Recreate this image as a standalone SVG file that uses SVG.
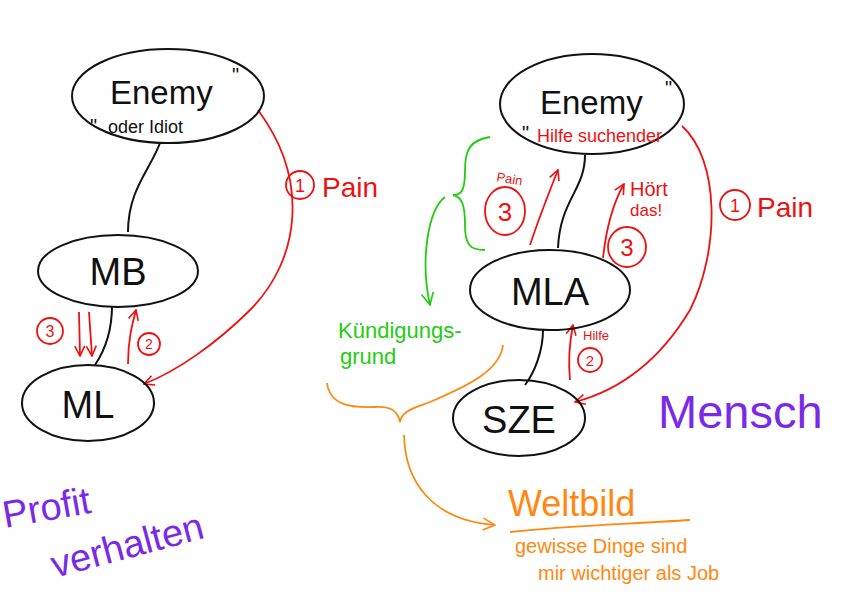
<svg xmlns="http://www.w3.org/2000/svg" width="842" height="595" viewBox="0 0 842 595">
<defs>
<style>
.node{fill:none;stroke:#111;stroke-width:2}
.blk{fill:none;stroke:#111;stroke-width:2}
.red{fill:none;stroke:#ee1111;stroke-width:1.8}
.grn{fill:none;stroke:#22cc11;stroke-width:1.8}
.org{fill:none;stroke:#ff8811;stroke-width:1.8}
.t{font-family:"Liberation Sans",Arial,sans-serif;fill:#111}
.tr{font-family:"Liberation Sans",Arial,sans-serif;fill:#ee1111}
.tg{font-family:"Liberation Sans",Arial,sans-serif;fill:#22cc11}
.to{font-family:"Liberation Sans",Arial,sans-serif;fill:#ff8811}
.tp{font-family:"Liberation Sans",Arial,sans-serif;fill:#7a2ae6}
</style>
<marker id="ar" viewBox="0 0 12 12" refX="11" refY="6" markerWidth="12" markerHeight="12" markerUnits="userSpaceOnUse" orient="auto"><path d="M1,1 L11,6 L1,11" fill="none" stroke="#ee1111" stroke-width="1.6"/></marker>
<marker id="ag" viewBox="0 0 14 14" refX="13" refY="7" markerWidth="14" markerHeight="14" markerUnits="userSpaceOnUse" orient="auto"><path d="M1,1 L13,7 L1,13" fill="none" stroke="#22cc11" stroke-width="1.6"/></marker>
<marker id="ao" viewBox="0 0 14 14" refX="13" refY="7" markerWidth="14" markerHeight="14" markerUnits="userSpaceOnUse" orient="auto"><path d="M1,1 L13,7 L1,13" fill="none" stroke="#ff8811" stroke-width="1.6"/></marker>
</defs>
<rect width="842" height="595" fill="#fff"/>

<g id="connectors">
<path class="blk" d="M160,143 C150,170 128,190 128,232"/>
<path class="blk" d="M112,306 C112,330 105,350 95,365"/>
<path class="blk" d="M585,155 C585,190 560,200 558,248"/>
<path class="blk" d="M543,330 C543,350 535,372 525,385"/>
<path class="red" marker-end="url(#ar)" d="M258,110 C310,180 300,260 250,310 C215,345 175,372 144,384"/>
<path class="red" marker-end="url(#ar)" d="M79,312 L80,356"/>
<path class="red" marker-end="url(#ar)" d="M89,312 L92,356"/>
<path class="red" marker-end="url(#ar)" d="M128,364 C128,340 132,325 136,310"/>
<path class="red" marker-end="url(#ar)" d="M682,126 C720,160 720,250 690,310 C660,360 620,390 575,402"/>
<path class="red" marker-end="url(#ar)" d="M530,245 C540,215 550,190 558,170"/>
<path class="red" marker-end="url(#ar)" d="M603,258 C606,230 612,205 624,184"/>
<path class="red" marker-end="url(#ar)" d="M570,380 C568,360 570,340 573,325"/>
<path class="grn" d="M490,137 C470,140 465,150 465,170 C465,190 462,195 453,195 C462,197 465,205 465,225 C465,245 470,250 485,250"/>
<path class="grn" marker-end="url(#ag)" d="M445,197 C428,210 420,260 430,305"/>
<path class="org" d="M327,383 C330,405 350,408 375,407 C392,406 398,412 400,422 C402,410 415,408 430,402 C470,385 500,370 503,345"/>
<path class="org" marker-end="url(#ao)" d="M404,435 C405,480 430,520 495,525"/>
</g>

<g id="enemy-left">
<ellipse class="node" cx="168" cy="96" rx="96" ry="47"/>
<text class="t" x="110" y="104" font-size="33">Enemy</text>
<text class="t" x="232" y="82" font-size="20">"</text>
<text class="t" x="90" y="133" font-size="20">"</text>
<text class="t" x="108" y="133" font-size="18">oder Idiot</text>
</g>
<g id="mb">
<ellipse class="node" cx="118" cy="271" rx="80" ry="36"/>
<text class="t" x="118" y="285" font-size="38" text-anchor="middle">MB</text>
</g>
<g id="ml">
<ellipse class="node" cx="88" cy="403" rx="66" ry="38"/>
<text class="t" x="88" y="418" font-size="38" text-anchor="middle">ML</text>
</g>

<g id="enemy-right">
<ellipse class="node" cx="592" cy="104" rx="92" ry="50"/>
<text class="t" x="540" y="114" font-size="33">Enemy</text>
<text class="t" x="665" y="95" font-size="20">"</text>
<text class="t" x="522" y="140" font-size="20">"</text>
<text class="tr" x="537" y="142" font-size="18">Hilfe suchender</text>
</g>
<g id="mla">
<ellipse class="node" cx="550" cy="290" rx="80" ry="40"/>
<text class="t" x="550" y="305" font-size="38" text-anchor="middle">MLA</text>
</g>
<g id="sze">
<ellipse class="node" cx="519" cy="418" rx="66" ry="38"/>
<text class="t" x="519" y="433" font-size="38" text-anchor="middle">SZE</text>
</g>

<g id="labels">
<circle class="red" cx="300" cy="185" r="14"/>
<text class="tr" x="300" y="192" font-size="18" text-anchor="middle">1</text>
<text class="tr" x="322" y="197" font-size="28">Pain</text>
<circle class="red" cx="50" cy="331" r="13"/>
<text class="tr" x="50" y="337" font-size="16" text-anchor="middle">3</text>
<circle class="red" cx="149" cy="344" r="11"/>
<text class="tr" x="149" y="349" font-size="14" text-anchor="middle">2</text>
<circle class="red" cx="735" cy="205" r="15"/>
<text class="tr" x="735" y="212" font-size="18" text-anchor="middle">1</text>
<text class="tr" x="757" y="217" font-size="28">Pain</text>
<text class="tr" x="496" y="181" font-size="13" transform="rotate(10 496 181)">Pain</text>
<ellipse class="red" cx="505" cy="211" rx="20" ry="24"/>
<text class="tr" x="505" y="221" font-size="26" text-anchor="middle">3</text>
<text class="tr" x="630" y="196" font-size="20">Hört</text>
<text class="tr" x="630" y="216" font-size="17">das!</text>
<ellipse class="red" cx="627" cy="247" rx="19" ry="20"/>
<text class="tr" x="627" y="256" font-size="24" text-anchor="middle">3</text>
<circle class="red" cx="590" cy="360" r="12"/>
<text class="tr" x="590" y="366" font-size="15" text-anchor="middle">2</text>
<text class="tr" x="583" y="340" font-size="13">Hilfe</text>
<text class="tg" x="338" y="338" font-size="22">Kündigungs-</text>
<text class="tg" x="340" y="364" font-size="22">grund</text>
<text class="to" x="508" y="516" font-size="36">Weltbild</text>
<path class="org" d="M510,532 C560,526 630,524 690,520"/>
<text class="to" x="515" y="553" font-size="20">gewisse Dinge sind</text>
<text class="to" x="538" y="580" font-size="20">mir wichtiger als Job</text>
<text class="tp" x="5" y="528" font-size="38" transform="rotate(-10 5 528)">Profit</text>
<text class="tp" x="55" y="578" font-size="38" transform="rotate(-15 55 578)">verhalten</text>
<text class="tp" x="658" y="428" font-size="47">Mensch</text>
</g>
</svg>
